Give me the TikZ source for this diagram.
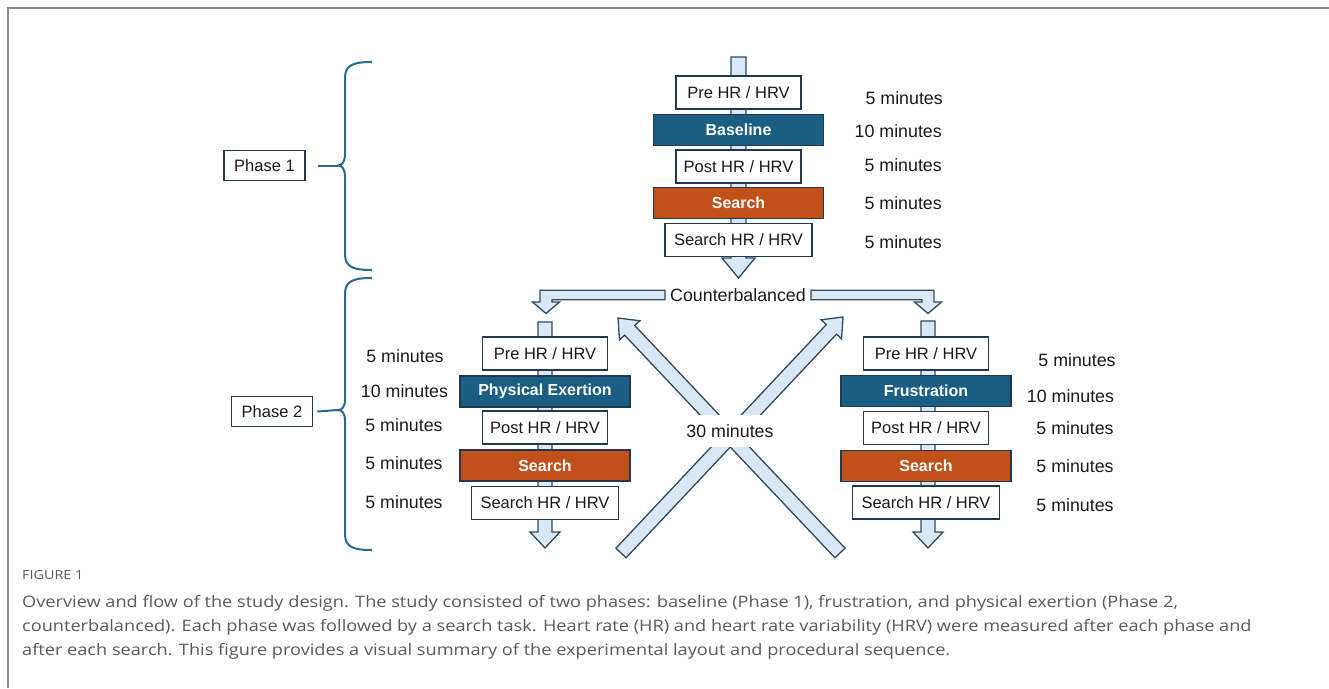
\documentclass[tikz,border=0pt]{standalone}
\usepackage{fontspec}
\setmainfont{Liberation Sans}
\newfontfamily\capfont[FakeStretch=1.15]{Open Sans}
\usetikzlibrary{calc}
\definecolor{navy}{HTML}{22384F}
\definecolor{boxblue}{HTML}{1B5E84}
\definecolor{boxorange}{HTML}{C1501A}
\definecolor{arrfill}{HTML}{DAE8F5}
\definecolor{arrline}{HTML}{2E4A62}
\definecolor{bracecol}{HTML}{2A6A8F}
\definecolor{txt}{HTML}{1A1A1A}
\definecolor{capgray}{HTML}{5A5A5A}
\definecolor{framegray}{HTML}{8C8C8C}
\newcommand{\FatArr}[5]{%
  \path ($(#2)!#5!(#1)$) coordinate (faP);
  \filldraw[fat] ($(#1)!#3!90:(#2)$) -- ($(faP)!#3!90:(#2)$) -- ($(faP)!#4!90:(#2)$) -- (#2)
    -- ($(faP)!#4!-90:(#2)$) -- ($(faP)!#3!-90:(#2)$) -- ($(#1)!#3!-90:(#2)$) -- cycle;}
\begin{document}
\begin{tikzpicture}[x=1pt,y=-1pt,
  lbl/.style={font=\fontsize{17.8}{20}\selectfont, text=txt, inner sep=0pt},
  wbox/.style={draw=navy, line width=1.6pt, fill=white, text=txt, font=\fontsize{16.5}{19}\selectfont, minimum height=33pt, inner sep=0pt},
  wide/.style={minimum width=125pt},
  widest/.style={minimum width=147pt},
  bbox/.style={draw=navy, line width=1.6pt, fill=boxblue, text=white, font=\fontsize{16}{19}\selectfont\bfseries, minimum height=31pt, minimum width=170pt, inner sep=0pt},
  obox/.style={bbox, fill=boxorange},
  fat/.style={draw=arrline, fill=arrfill, line width=1.3pt, line join=miter},
  bracesty/.style={draw=bracecol, line width=2pt},
  phasebox/.style={draw=navy, line width=1.6pt, fill=white, text=txt, font=\fontsize{16.5}{19}\selectfont, minimum height=30pt, minimum width=81pt, inner sep=0pt},
  captext/.style={font=\capfont\fontsize{15.8}{19}\selectfont, text=capgray, anchor=west, inner sep=0pt}
]
\useasboundingbox (0,0) rectangle (1329,688);
\fill[white] (0,0) rectangle (1329,688);
\draw[framegray, line width=2pt] (7.5,688) -- (7.5,7.5) -- (1329,7.5);

% ---------- arrows (behind boxes)
\coordinate (t0) at (738.5,57);  \coordinate (t1) at (738.5,278);
\coordinate (l0) at (545,322);   \coordinate (l1) at (545,548);
\coordinate (r0) at (928,321);   \coordinate (r1) at (928,548);
\FatArr{t0}{t1}{7.5pt}{16.5pt}{20pt}
\FatArr{l0}{l1}{7pt}{15pt}{16pt}
\FatArr{r0}{r1}{7pt}{15pt}{16pt}

% X arrows
\coordinate (xa0) at (621,553); \coordinate (xa1) at (843,317);
\coordinate (xb0) at (840,553); \coordinate (xb1) at (618,318);
\FatArr{xa0}{xa1}{7pt}{14pt}{17pt}
\FatArr{xb0}{xb1}{7pt}{14pt}{17pt}
\node[lbl, fill=white, minimum width=94pt, minimum height=32pt] (thirty) at (730,431) {30 minutes};

% Counterbalanced and bent arrows
\node[lbl, inner xsep=5pt] (cb) at (738,295) {Counterbalanced};
\filldraw[fat] ([yshift=4.75pt]cb.west) -- (540,290.25) -- (540,302) -- (532.5,302) -- (546,313.5)
  -- (559.5,302) -- (552,302) -- (552,299.75) -- ([yshift=-4.75pt]cb.west) -- cycle;
\filldraw[fat] ([yshift=4.75pt]cb.east) -- (934,290.25) -- (934,302) -- (941.5,302) -- (928,313.5)
  -- (914.5,302) -- (922,302) -- (922,299.75) -- ([yshift=-4.75pt]cb.east) -- cycle;

% ---------- Phase 1 column
\node[wbox, wide] (tpre) at (738.5,92.5) {Pre HR / HRV};
\node[bbox] (tbase) at (738.5,130) {Baseline};
\node[wbox, wide] (tpost) at (738.5,166.5) {Post HR / HRV};
\node[obox] (tsearch) at (738.5,203) {Search};
\node[wbox, widest] (tshr) at (738.5,240) {Search HR / HRV};
\node[lbl, anchor=east] at (943,98) {5 minutes};
\node[lbl, anchor=east] at (942,131.5) {10 minutes};
\node[lbl, anchor=east] at (942,165) {5 minutes};
\node[lbl, anchor=east] at (942,203) {5 minutes};
\node[lbl, anchor=east] at (942,242) {5 minutes};

% ---------- left column
\node[wbox, wide] (lpre) at (545,353.5) {Pre HR / HRV};
\node[bbox] (lphys) at (545,391.5) {Physical Exertion};
\node[wbox, wide] (lpost) at (545,427.5) {Post HR / HRV};
\node[obox] (lsearch) at (545,465.5) {Search};
\node[wbox, widest] (lshr) at (545,503) {Search HR / HRV};
\node[lbl] at (405,356) {5 minutes};
\node[lbl] at (404.5,391.5) {10 minutes};
\node[lbl] at (404,425) {5 minutes};
\node[lbl] at (404,463.5) {5 minutes};
\node[lbl] at (404,502) {5 minutes};

% ---------- right column
\node[wbox, wide] (rpre) at (926,353.5) {Pre HR / HRV};
\node[bbox] (rfrus) at (926,391) {Frustration};
\node[wbox, wide] (rpost) at (926,428) {Post HR / HRV};
\node[obox] (rsearch) at (926,466) {Search};
\node[wbox, widest] (rshr) at (926,502.5) {Search HR / HRV};
\node[lbl] at (1077,360.5) {5 minutes};
\node[lbl] at (1070.5,396) {10 minutes};
\node[lbl] at (1075,428.5) {5 minutes};
\node[lbl] at (1075,466.5) {5 minutes};
\node[lbl] at (1075,505) {5 minutes};

% ---------- braces and phase labels
\node[phasebox] (ph1) at (264.5,165.5) {Phase 1};
\node[phasebox] (ph2) at (272,411.5) {Phase 2};
\coordinate (c1) at (338,165.5);
\coordinate (c2) at (338,410);
\draw[bracesty] (372,62) .. controls (353,62) and (345,65) .. (345,78) -- (345,154)
  .. controls (345,162) and (342,165.5) .. (c1) .. controls (342,165.5) and (345,169) .. (345,177)
  -- (345,254) .. controls (345,267) and (353,270) .. (372,270);
\draw[bracesty] (372,278) .. controls (353,278) and (345,281) .. (345,294) -- (345,399)
  .. controls (345,407) and (342,410) .. (c2) .. controls (342,410) and (345,413) .. (345,421)
  -- (345,534) .. controls (345,547) and (353,550) .. (372,550);
\draw[bracesty] ([xshift=12pt]ph1.east) -- (c1);
\draw[bracesty] ([xshift=4pt]ph2.east) -- (c2);

% ---------- caption
\node[captext, font=\capfont\fontsize{12.5}{14}\selectfont] (figlbl) at (22,575) {FIGURE 1};
\node[captext] (cap1) at (22,603) {Overview and flow of the study design. The study consisted of two phases: baseline (Phase 1), frustration, and physical exertion (Phase 2,};
\node[captext] (cap2) at (22,627) {counterbalanced). Each phase was followed by a search task. Heart rate (HR) and heart rate variability (HRV) were measured after each phase and};
\node[captext] (cap3) at (22,651) {after each search. This figure provides a visual summary of the experimental layout and procedural sequence.};
\end{tikzpicture}
\end{document}
